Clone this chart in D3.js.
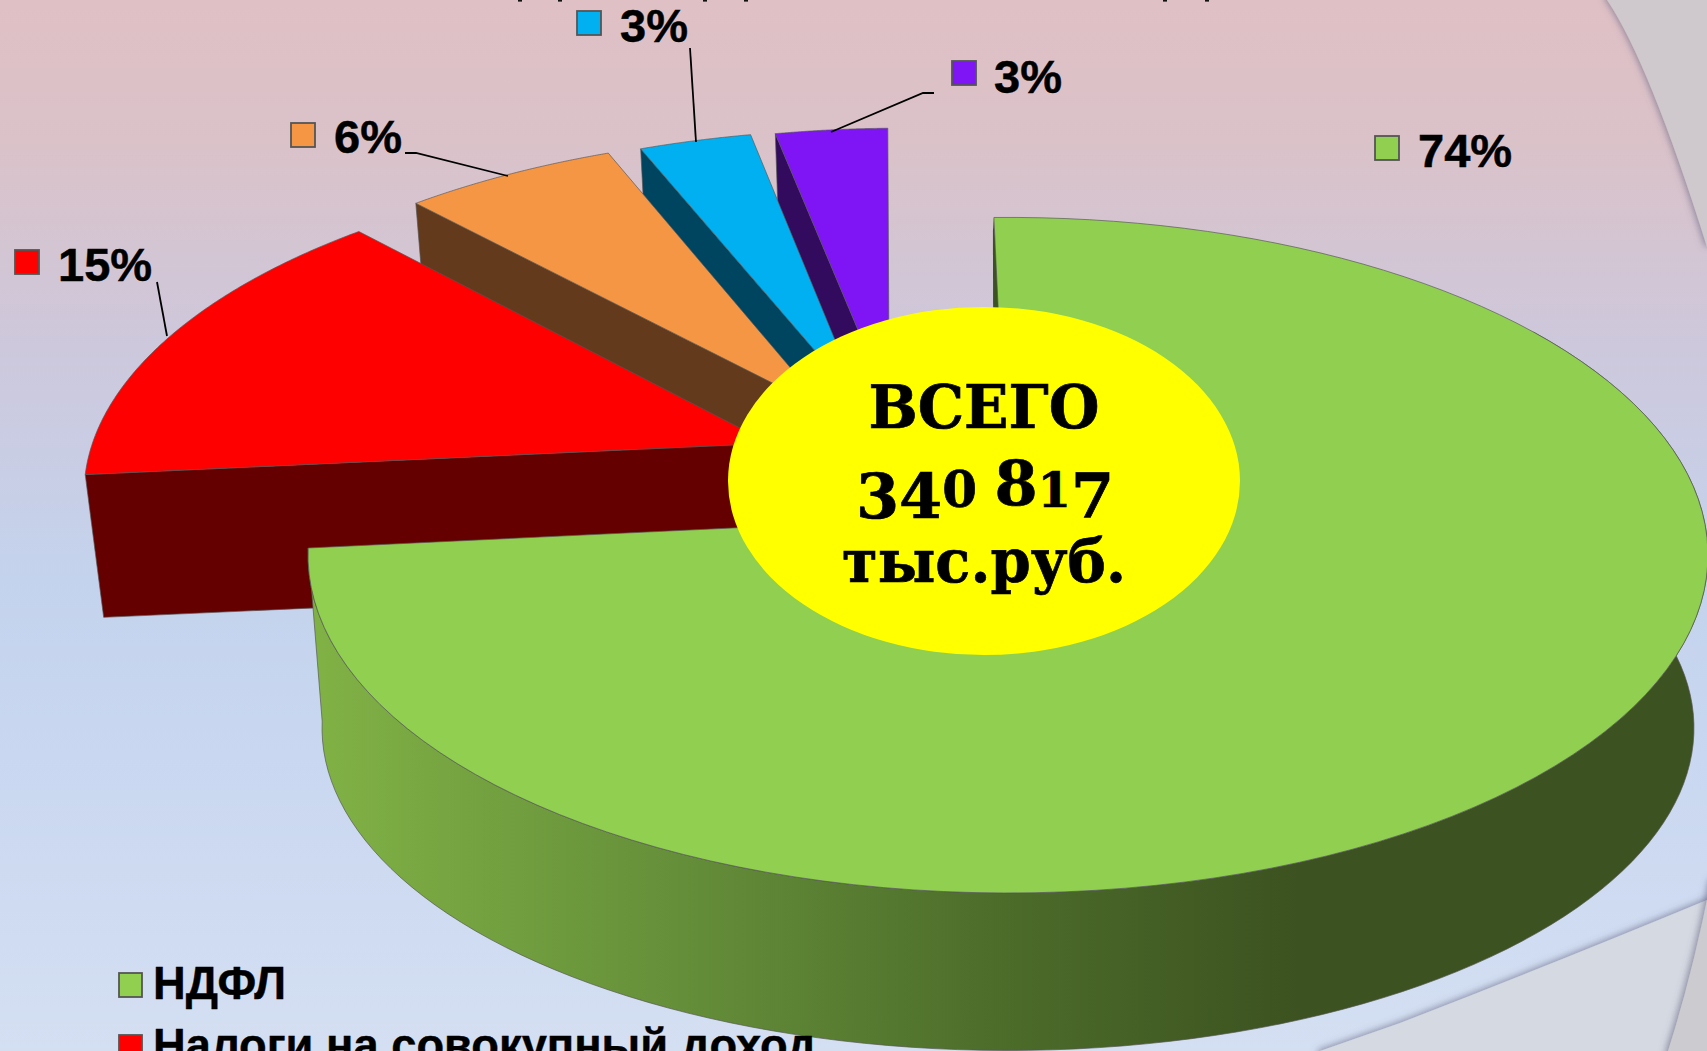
<!DOCTYPE html>
<html><head><meta charset="utf-8">
<script src="https://cdn.jsdelivr.net/npm/d3@7"></script>
<style>
html,body{margin:0;padding:0;width:1707px;height:1051px;overflow:hidden;background:#c8d6ef}
svg{display:block}
</style></head><body>
<svg id="c" width="1707" height="1051" viewBox="0 0 1707 1051"></svg>
<script>
// ---- data ----
const shares = [73.8, 14.5, 5.7, 3.0, 3.0];
const shareLabels = shares.map(v => d3.format(".0f")(v) + "%");
const legendNames = ["НДФЛ", "Налоги на совокупный доход"];
const centerLines = ["ВСЕГО", "340 817", "тыс.руб."];
// ---- styles ----
const topColors  = ["#90cf50", "#ff0000", "#f59645", "#00b0f0", "#7f14f5"];
const wallColors = ["#3c5220", "#650000", "#633a1c", "#00455f", "#320a5e"];
// ---- layout ----
const cx = 1008, cy = 515, Rx = 695, Ry = 333, persp = 0.119;
const firstAngle = -1.3 * Math.PI / 180;
const explodeX = [0, -0.352, -0.2715, -0.219, -0.178];
const explodeY = [0, -0.221, -0.327, -0.344, -0.348];
const depth    = [175, 141, 130, 125, 120];
const keyX = [1375, 15, 291, 577, 952], keyY = [136, 250, 123, 11, 61];
const txtX = [1418, 58, 334, 620, 994], txtY = [167, 281, 153, 42, 93];
const leaders = [null,
  [[157,282],[167,336]],
  [[405,153],[416,153],[508,176]],
  [[690,48],[696,142]],
  [[934,93],[923,93],[831,132]]];

const svg = d3.select("#c");
const defs = svg.append("defs");

// background
const bg = defs.append("linearGradient").attr("id","bg").attr("x1",0).attr("y1",0).attr("x2",0).attr("y2",1);
[[0,"#dfc0c5"],[.14,"#dac2c9"],[.33,"#cdc8dc"],[.55,"#c4d3ed"],[.72,"#c9d7f0"],[1,"#d4dff2"]]
  .forEach(s => bg.append("stop").attr("offset",s[0]).attr("stop-color",s[1]));
svg.append("rect").attr("width",1707).attr("height",1051).attr("fill","url(#bg)");

const sh = defs.append("filter").attr("id","panelShadow").attr("x","-20%").attr("y","-20%").attr("width","140%").attr("height","140%");
sh.append("feDropShadow").attr("dx",-2).attr("dy",-1).attr("stdDeviation",3.5).attr("flood-color","#5a5a78").attr("flood-opacity",.6);
svg.append("path").attr("d","M1607,0 Q1649,62 1707,247 L1740,247 L1740,-30 L1607,-30Z").attr("fill","#cfc8cc").attr("filter","url(#panelShadow)");
svg.append("path").attr("d","M1320,1051 L1400,1023 Q1550,965 1707,900 L1740,900 L1740,1090 L1320,1090Z").attr("fill","#d5d9e2").attr("filter","url(#panelShadow)");
svg.append("path").attr("d","M1711,880 Q1693,973 1668,1051 L1668,1090 L1740,1090 L1740,880Z").attr("fill","#cbcbd0").attr("filter","url(#panelShadow)");

// title descender remnants cut by the top edge
[518,558,703,744,1163,1205].forEach(x => svg.append("rect").attr("x",x).attr("y",0).attr("width",4).attr("height",1.6).attr("fill","#111"));

// projection of the tilted pie plane
const sx = d3.scaleLinear([-1,1],[-Rx,Rx]);
const sy = d3.scaleLinear([-1,1],[-Ry,Ry]);
function proj(theta, r, i, z) {
  const X = r*Math.sin(theta) + explodeX[i], Y = -r*Math.cos(theta) + explodeY[i];
  const f = 1/(1 - persp*Y);
  let x = sx(X)*f, y = sy(Y)*f;
  if (z) { x *= 0.98; y += depth[i]*(1 - 0.1*Y); }
  return [cx + x, cy + y];
}
const line = d3.line();
const arcs = d3.pie().sort(null).value(d=>d).startAngle(firstAngle).endAngle(firstAngle + 2*Math.PI)(shares);
const sampled = (a,b) => d3.range(0,121).map(k => a + (b-a)*k/120);

// wall gradient for the big slice
const wg = defs.append("linearGradient").attr("id","wall").attr("gradientUnits","userSpaceOnUse")
  .attr("x1",322).attr("y1",0).attr("x2",1300).attr("y2",0);
[[0,"#80b145"],[.35,"#66903a"],[.7,"#4c6c2a"],[1,"#3c5220"]].forEach(s=>wg.append("stop").attr("offset",s[0]).attr("stop-color",s[1]));

const edge = sel => sel.attr("stroke","#555").attr("stroke-width",.9).attr("stroke-opacity",.75).attr("stroke-linejoin","round");

// exploded slices, back to front
[4,3,2,1].forEach(i => {
  const a = arcs[i];
  svg.append("path").attr("fill",wallColors[i]).call(edge)
    .attr("d", line([proj(a.startAngle,1,i,0),proj(a.startAngle,1,i,1),proj(0,0,i,1),proj(0,0,i,0)])+"Z");
  const rim = sampled(a.startAngle,a.endAngle).map(t=>proj(t,1,i,0));
  svg.append("path").attr("fill",topColors[i]).call(edge)
    .attr("d", line([proj(0,0,i,0),...rim])+"Z");
});

// big slice
{
  const a = arcs[0];
  const from = Math.PI*0.3;
  const up = sampled(from,a.endAngle).map(t=>proj(t,1,0,0));
  const dn = sampled(from,a.endAngle).map(t=>proj(t,1,0,1)).reverse();
  svg.append("path").attr("fill","url(#wall)").call(edge).attr("d",line([...up,...dn])+"Z");
  // sliver of the inner wall at 12 o'clock
  const p0 = proj(a.startAngle,1,0,0), p1 = proj(a.startAngle,0.6,0,0);
  svg.append("path").attr("fill",wallColors[0])
    .attr("d",line([p0,[p0[0]-1,p0[1]+14],[p1[0]-6,p1[1]],[p1[0]+1,p1[1]]])+"Z");
  const rim = sampled(a.startAngle,a.endAngle).map(t=>proj(t,1,0,0));
  svg.append("path").attr("fill",topColors[0]).call(edge).attr("d",line([proj(0,0,0,0),...rim])+"Z");
}

// center ellipse
svg.append("ellipse").attr("cx",984).attr("cy",481).attr("rx",256).attr("ry",174).attr("fill","#ffff00");
const serif = "'DejaVu Serif','Liberation Serif',serif";
const heavy = sel => sel.attr("font-family",serif).attr("font-weight",700).attr("fill","#000").attr("stroke","#000").attr("stroke-width",.7);
const ct = (y,t,len) => svg.append("text").attr("x",984).attr("y",y).attr("text-anchor","middle").call(heavy)
  .attr("font-size",60).attr("textLength",len).attr("lengthAdjust","spacingAndGlyphs").text(t);
ct(428,centerLines[0],231);
ct(582,centerLines[2],284);
// old-style numerals
{
  const t = svg.append("text").attr("x",985).attr("y",505).attr("text-anchor","middle").call(heavy).attr("font-size",64);
  let cur = 0;
  Array.from(centerLines[1]).forEach(ch => {
    const size = ch==="0" ? 50 : ch==="1" ? 48 : ch===" " ? 50 : 62;
    const want = (ch==="3"||ch==="4"||ch==="7") ? 13 : (ch==="0"||ch==="1") ? 2 : 0;
    t.append("tspan").attr("dy",want-cur).attr("font-size",size).text(ch===" "?"\u00a0":ch);
    cur = want;
  });
}

// data labels
const sans = "'Liberation Sans',Arial,sans-serif";
shares.forEach((v,i)=>{
  if (leaders[i]) svg.append("path").attr("d",line(leaders[i])).attr("fill","none").attr("stroke","#000").attr("stroke-width",1.8);
  svg.append("rect").attr("x",keyX[i]).attr("y",keyY[i]).attr("width",24).attr("height",24)
    .attr("fill",topColors[i]).attr("stroke","#555").attr("stroke-width",1.8);
  svg.append("text").attr("x",txtX[i]).attr("y",txtY[i]).attr("font-family",sans).attr("font-weight",700)
    .attr("font-size",47).attr("fill","#000").attr("stroke","#000").attr("stroke-width",.5).text(shareLabels[i]);
});

// legend (continues below the visible area)
legendNames.forEach((n,i)=>{
  const y = 999 + i*62;
  svg.append("rect").attr("x",119).attr("y",y-26).attr("width",23).attr("height",24)
    .attr("fill",topColors[i]).attr("stroke","#555").attr("stroke-width",1.8);
  svg.append("text").attr("x",153).attr("y",y).attr("font-family",sans).attr("font-weight",700)
    .attr("font-size",45.3).attr("fill","#000").attr("stroke","#000").attr("stroke-width",.4).text(n);
});
</script>
</body></html>
